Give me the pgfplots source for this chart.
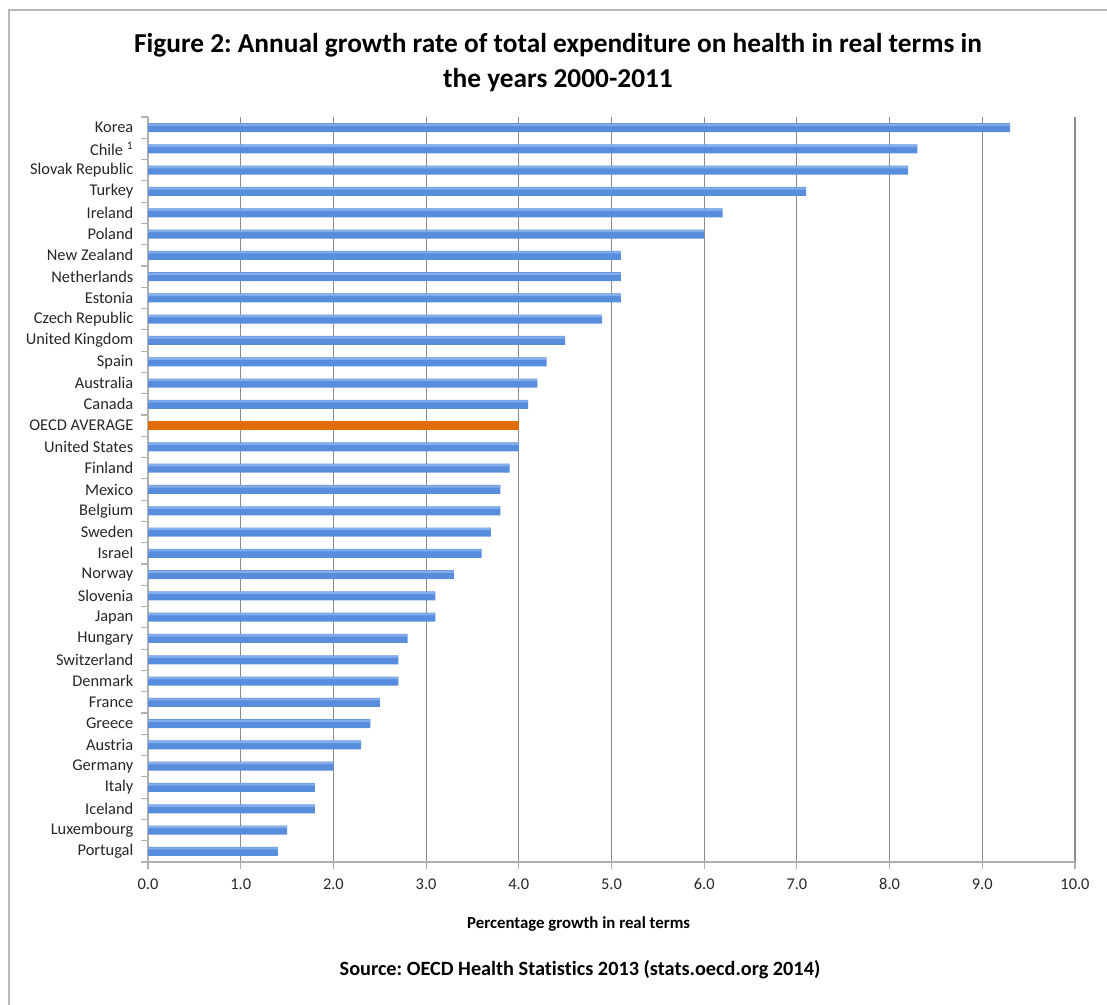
\documentclass[border=0pt]{standalone}
\usepackage{pgfplots}
\pgfplotsset{compat=1.18}
\usepackage{fontspec}
\setmainfont{Carlito}[Ligatures=NoCommon]
\frenchspacing
\definecolor{barmid}{RGB}{88,140,220}
\definecolor{barlight}{RGB}{150,188,240}
\definecolor{orangebar}{RGB}{227,108,10}
\definecolor{gridc}{RGB}{140,140,140}
\definecolor{axc}{RGB}{176,176,176}
\pgfplotstableread{
y val
34 9.3
33 8.3
32 8.2
31 7.1
30 6.2
29 6.0
28 5.1
27 5.1
26 5.1
25 4.9
24 4.5
23 4.3
22 4.2
21 4.1
19 4.0
18 3.9
17 3.8
16 3.8
15 3.7
14 3.6
13 3.3
12 3.1
11 3.1
10 2.8
9 2.7
8 2.7
7 2.5
6 2.4
5 2.3
4 2.0
3 1.8
2 1.8
1 1.5
0 1.4
}\countries
\pgfplotstableread{
y val
20 4.0
}\oecd
\begin{document}
\begin{tikzpicture}
\useasboundingbox (0,0) rectangle (830.25pt,753.75pt);
\draw[gray!55, line width=1pt] (6.75pt,0) -- (6.75pt,746.25pt) -- (830.25pt,746.25pt);
\node[align=center, font=\fontsize{20.5}{26.5}\selectfont\bfseries] at (418.5pt,706.9pt)
  {Figure 2: Annual growth rate of total expenditure on health in real terms in\\the years 2000-2011};
\begin{axis}[
  at={(111pt,107.25pt)}, anchor=south west,
  width=695.25pt, height=558.75pt, scale only axis,
  xmin=0, xmax=10, ymin=-0.5, ymax=34.5,
  xtick={0,1,...,10},
  xticklabel style={/pgf/number format/fixed, /pgf/number format/fixed zerofill, /pgf/number format/precision=1, /pgf/number format/assume math mode=true},
  xticklabel style={font=\fontsize{12.3}{14}\selectfont, text=black!85},
  ytick={0,1,...,34},
  yticklabels={Portugal,Luxembourg,Iceland,Italy,Germany,Austria,Greece,France,Denmark,Switzerland,Hungary,Japan,Slovenia,Norway,Israel,Sweden,Belgium,Mexico,Finland,United States,OECD AVERAGE,Canada,Australia,Spain,United Kingdom,Czech Republic,Estonia,Netherlands,New Zealand,Poland,Ireland,Turkey,Slovak Republic,Chile \textsuperscript{1},Korea},
  yticklabel style={font=\fontsize{12.3}{14}\selectfont, text=black!85, xshift=-2.5pt},
  major y tick style={draw=none},
  minor ytick={-0.5,0.5,...,34.5},
  minor y tick style={draw=axc, line width=0.8pt},
  minor tick length=5pt,
  major x tick style={draw=axc, line width=0.8pt},
  major tick length=5pt,
  tick align=outside,
  xtick pos=bottom, ytick pos=left,
  xmajorgrids, grid style={gridc, line width=0.8pt},
  axis x line*=bottom, axis y line*=left,
  x axis line style={axc, line width=1.6pt, -},
  y axis line style={axc, line width=0.8pt, -},
  xticklabel shift=4pt,
  xbar, bar shift=0pt,
  clip=false,
]
\addplot[draw=none, fill=barmid, bar width=6.75pt] table[x=val, y=y] {\countries};
\addplot[draw=none, fill=barlight, fill opacity=0.7, bar width=1.6pt, bar shift=2.2pt] table[x=val, y=y] {\countries};
\addplot[draw=none, fill=orangebar, bar width=6.75pt] table[x=val, y=y] {\oecd};
\end{axis}
\node[font=\fontsize{12.6}{14}\selectfont\bfseries] at (434pt,60.75pt) {Percentage growth in real terms};
\node[font=\fontsize{15.2}{17}\selectfont\bfseries] at (435pt,26.25pt) {Source: OECD Health Statistics 2013 (stats.oecd.org 2014)};
\end{tikzpicture}
\end{document}
